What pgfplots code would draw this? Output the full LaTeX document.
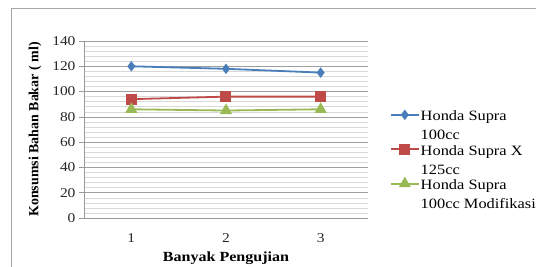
\documentclass[border=0pt]{standalone}
\usepackage{pgfplots}
\pgfplotsset{compat=1.18}
\usepackage{fontspec}
\setmainfont[FakeStretch=1.15]{Liberation Serif}
\newfontfamily\yfont{Liberation Serif}
\definecolor{sblue}{HTML}{4A7EBB}
\definecolor{sred}{HTML}{BE4B48}
\definecolor{sgreen}{HTML}{98B954}
\newcommand{\legtwo}[2]{{\renewcommand\arraystretch{1.13}\begin{tabular}[t]{@{}l@{}}#1\\#2\end{tabular}}}
\begin{document}
\begin{tikzpicture}
\path[use as bounding box] (-84bp,-49bp) rectangle (452bp,218bp);
\draw[gray!70, line width=1bp] (-72bp,-60bp) -- (-72bp,209bp) -- (460bp,209bp);
\begin{axis}[
  at={(0,0)}, anchor=south west, scale only axis,
  width=284bp, height=177bp,
  xmin=0.5, xmax=3.5, ymin=0, ymax=140,
  xtick={1,2,3}, ytick={0,20,...,140}, minor y tick num=4,
  axis lines*=left,
  axis line style={draw=gray!80, line width=0.8bp},
  ymajorgrids, yminorgrids,
  major grid style={gray!75, line width=0.6bp},
  minor grid style={gray!30, line width=0.5bp},
  tick align=outside, major tick length=5bp, minor tick length=0pt,
  xtick style={draw=none},
  ytick style={draw=gray!80, line width=0.6bp},
  /pgf/number format/assume math mode=true,
  ticklabel style={font=\fontsize{13.5}{16}\selectfont, text=black!85},
  xticklabel style={yshift=-7bp},
  xlabel={\textbf{Banyak Pengujian}},
  ylabel={\yfont\textbf{Konsumsi Bahan Bakar ( ml)}},
  label style={font=\fontsize{14}{16}\selectfont},
  xlabel style={at={(axis description cs:0.5,-0.226)}, anchor=center},
  ylabel style={at={(axis description cs:-0.1725,0.5)}, anchor=center},
  legend style={at={(axis description cs:1.066,0.643)}, anchor=north west,
    draw=none, fill=none, font=\fontsize{14.3}{17}\selectfont,
    legend cell align=left, column sep=0pt, row sep=17.5bp,
    nodes={inner sep=1bp}},
  legend image code/.code={
    \draw[mark repeat=2, mark phase=2, #1] plot coordinates {(0bp,0bp) (14bp,0bp) (28bp,0bp)};
  },
]
\addplot[color=sblue, line width=1.8bp, mark=diamond*, mark size=3.8bp, mark options={solid}]
  coordinates {(1,120) (2,118) (3,115)};
\addlegendentry{\legtwo{Honda Supra}{100cc}}
\addplot[color=sred, line width=1.8bp, mark=square*, mark size=4.6bp, mark options={solid}]
  coordinates {(1,94) (2,96) (3,96)};
\addlegendentry{\legtwo{Honda Supra X}{125cc}}
\addplot[color=sgreen, line width=1.8bp, mark=triangle*, mark size=5.2bp, mark options={solid}]
  coordinates {(1,86) (2,85) (3,86)};
\addlegendentry{\legtwo{Honda Supra}{100cc Modifikasi}}
\end{axis}
\end{tikzpicture}
\end{document}
